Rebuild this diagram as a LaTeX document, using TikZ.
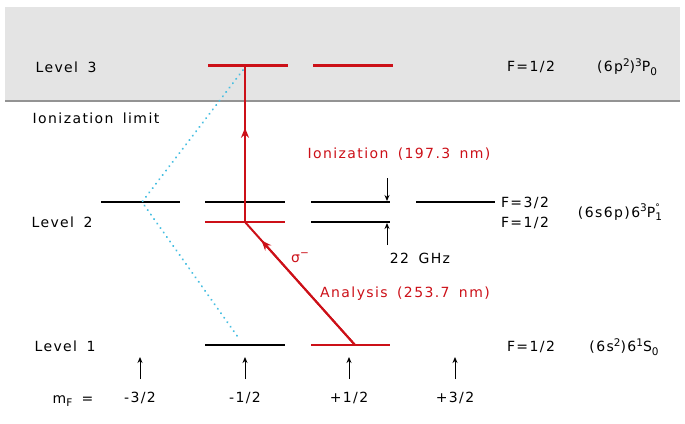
\documentclass[tikz,border=0pt]{standalone}
\usepackage{fontspec}
\setmainfont[LetterSpace=10,WordSpace=1.6]{DejaVu Sans}
\usetikzlibrary{arrows.meta,calc}
\definecolor{dred}{RGB}{204,16,24}
\definecolor{bggray}{RGB}{228,228,228}
\definecolor{dotcyan}{RGB}{70,190,225}
\newcommand{\sps}[1]{\raisebox{0.75ex}{\fontsize{10.5}{10}\selectfont #1}}
\newcommand{\sbs}[1]{\raisebox{-0.45ex}{\fontsize{10.5}{10}\selectfont #1}}
\begin{document}
\begin{tikzpicture}[x=1pt,y=-1pt,
  blk/.style={line width=2pt, black},
  rlvl/.style={line width=2pt, dred},
  rlvl3/.style={line width=3pt, dred},
  lbl/.style={font=\fontsize{14}{16}\selectfont, inner sep=0pt, anchor=center},
  rlbl/.style={lbl, text=dred},
  smallarrow/.style={line width=0.9pt, -{Stealth[length=6pt,width=5pt]}},
  redarrow/.style={line width=2pt, dred, -{Stealth[length=10pt,width=8pt]}},
  redline/.style={line width=2pt, dred},
  cyandots/.style={dotcyan, line width=2pt, line cap=round, dash pattern=on 0.3pt off 5.2pt}
]
\useasboundingbox (0,0) rectangle (685,423);
\fill[bggray] (5,7) rectangle (680,101);
\draw[gray!85, line width=1.2pt] (5,101) -- (680,101);

% Level 3
\draw[rlvl3] (208,65) coordinate (l3a) -- (288,65) coordinate (l3b);
\draw[rlvl3] (313,65) coordinate (l3c) -- (393,65) coordinate (l3d);
\coordinate (top) at (245,65);

% Level 2
\draw[blk] (101,202) -- (180,202);
\draw[blk] (205,202) -- (285,202);
\draw[blk] (311,202) -- (390,202);
\draw[blk] (416,202) -- (495,202);
\draw[rlvl] (205,222) -- (285,222);
\draw[blk] (311,222) -- (390,222);
\coordinate (mid) at (245,222);
\coordinate (bend) at (142,202);

% Level 1
\draw[blk] (205,345) -- (285,345);
\draw[rlvl] (311,345) -- (390,345);
\coordinate (bot) at (355,345);
\coordinate (dotend) at (240,340);
\coordinate (dotstart) at (243,70);

% cyan dotted paths
\draw[cyandots] (dotstart) -- (bend) -- (dotend);

% red transitions
\draw[redline] (mid) -- (top);
\draw[redarrow] (mid) -- ($(mid)!0.60!(top)$);
\draw[redline] (bot) -- (mid);
\draw[redarrow] (bot) -- ($(bot)!0.85!(mid)$);

% 22 GHz arrows
\coordinate (ga1) at (387,178); \coordinate (ga2) at (387,201);
\coordinate (gb1) at (387,245); \coordinate (gb2) at (387,223);
\draw[smallarrow] (ga1) -- (ga2);
\draw[smallarrow] (gb1) -- (gb2);

% m_F arrows
\foreach \x/\n in {140/a,245/b,349/c,455/d}{
  \coordinate (m\n1) at (\x,379); \coordinate (m\n2) at (\x,357);
  \draw[smallarrow] (m\n1) -- (m\n2);
}

% labels
\node[lbl] (t3) at (66,67) {Level 3};
\node[lbl] (tion) at (96,118) {Ionization limit};
\node[lbl] (t2) at (62,222) {Level 2};
\node[lbl] (t1) at (65,346) {Level 1};
\node[lbl] (mf) at (73,401) {m\sbs{F} =};
\node[lbl] (ma) at (140,398) {-3/2};
\node[lbl] (mb) at (245,398) {-1/2};
\node[lbl] (mc) at (349,398) {+1/2};
\node[lbl] (md) at (455,398) {+3/2};

\node[rlbl] (ion) at (399,154) {Ionization (197.3 nm)};
\node[rlbl] (sig) at (300,258) {σ\sps{−}};
\node[rlbl] (ana) at (405,294) {Analysis (253.7 nm)};
\node[lbl] (ghz) at (420,258) {22 GHz};

\node[lbl] (f3) at (531,67) {F=1/2};
\node[lbl] (c3) at (627,67) {(6p\sps{2})\sps{3}P\sbs{0}};
\node[lbl] (f2a) at (525,203) {F=3/2};
\node[lbl] (f2b) at (525,223) {F=1/2};
\node[lbl] (c2) at (620,212) {(6s6p)6\sps{3}P\rlap{\raisebox{0.9ex}{\fontsize{9}{9}\selectfont °}}\sbs{1}};
\node[lbl] (f1) at (531,347) {F=1/2};
\node[lbl] (c1) at (624,347) {(6s\sps{2})6\sps{1}S\sbs{0}};
\end{tikzpicture}
\end{document}
